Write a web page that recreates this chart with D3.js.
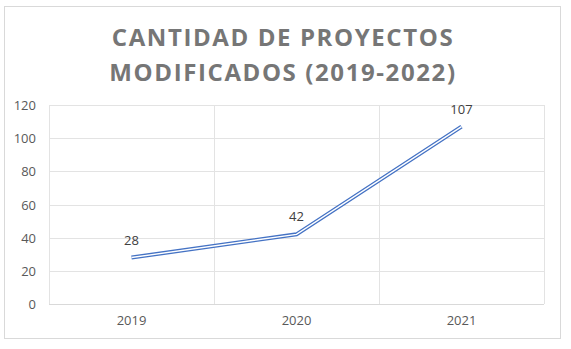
<!DOCTYPE html>
<html>
<head>
<meta charset="utf-8">
<script src="https://cdn.jsdelivr.net/npm/d3@7"></script>
<style>
  html, body { margin: 0; padding: 0; background: #fff; }
  svg { display: block; }
</style>
</head>
<body>
<svg id="chart" width="571" height="349"></svg>
<script>
// Projects modified per year
const years = ["2019", "2020", "2021"];
const proyectos = [28, 42, 107];
const yTicks = [0, 20, 40, 60, 80, 100, 120];
const titleLines = ["CANTIDAD DE PROYECTOS", "MODIFICADOS (2019-2022)"];

const svg = d3.select("#chart");
const W = 571, H = 349;
const plot = { left: 49, right: 544, top: 105, bottom: 304 };
const textColor = "#595959";
const gridColor = "#e3e3e3";
const font = "'Open Sans', 'Noto Sans', sans-serif";

// Chart frame
svg.append("rect")
  .attr("x", 4.5).attr("y", 6.5)
  .attr("width", 556).attr("height", 332)
  .attr("fill", "#fff")
  .attr("stroke", "#d9d9d9").attr("stroke-width", 1);

// Title
svg.append("g").selectAll("text")
  .data(titleLines)
  .join("text")
  .attr("x", 283)
  .attr("y", (d, i) => 46 + i * 35)
  .attr("text-anchor", "middle")
  .attr("font-family", font)
  .attr("font-weight", "bold")
  .attr("font-size", 24)
  .attr("letter-spacing", 1.6)
  .attr("fill", "#767676")
  .text(d => d);

// Scales
const x = d3.scaleBand().domain(years).range([plot.left, plot.right]);
const y = d3.scaleLinear().domain([0, 120]).range([plot.bottom, plot.top]);

// Horizontal gridlines
svg.append("g").selectAll("line")
  .data(yTicks)
  .join("line")
  .attr("x1", plot.left).attr("x2", plot.right)
  .attr("y1", d => Math.round(y(d)) + 0.5)
  .attr("y2", d => Math.round(y(d)) + 0.5)
  .attr("stroke", d => d === 0 ? "#d9d9d9" : gridColor)
  .attr("stroke-width", 1);

// Vertical gridlines at category boundaries
const bounds = years.map(d => x(d)).concat([plot.right]);
svg.append("g").selectAll("line")
  .data(bounds)
  .join("line")
  .attr("x1", d => Math.round(d) + 0.5)
  .attr("x2", d => Math.round(d) + 0.5)
  .attr("y1", plot.top).attr("y2", plot.bottom)
  .attr("stroke", gridColor)
  .attr("stroke-width", 1);

// Y axis labels
const yAxis = d3.axisLeft(y).tickValues(yTicks).tickSize(0).tickPadding(0);
const gy = svg.append("g")
  .attr("transform", `translate(${36},0)`)
  .call(yAxis);
gy.select(".domain").remove();
gy.selectAll("text")
  .attr("font-family", font)
  .attr("font-size", 13)
  .attr("fill", textColor)
  .attr("dy", "0.35em");

// X axis labels
const xAxis = d3.axisBottom(x).tickSize(0).tickPadding(0);
const gx = svg.append("g")
  .attr("transform", `translate(0,${plot.bottom + 12})`)
  .call(xAxis);
gx.select(".domain").remove();
gx.selectAll("text")
  .attr("font-family", font)
  .attr("font-size", 13)
  .attr("fill", textColor)
  .attr("dy", "0.71em");

// Double-stroke line
const line = d3.line()
  .x((d, i) => x(years[i]) + x.bandwidth() / 2)
  .y(d => y(d));

svg.append("path")
  .datum(proyectos)
  .attr("d", line)
  .attr("fill", "none")
  .attr("stroke", "#4472c4")
  .attr("stroke-width", 4)
  .attr("stroke-linejoin", "miter");

svg.append("path")
  .datum(proyectos)
  .attr("d", line)
  .attr("fill", "none")
  .attr("stroke", "#ffffff")
  .attr("stroke-width", 1.4)
  .attr("stroke-linejoin", "miter");

// Data labels
svg.append("g").selectAll("text")
  .data(proyectos)
  .join("text")
  .attr("x", (d, i) => x(years[i]) + x.bandwidth() / 2)
  .attr("y", d => y(d) - 13)
  .attr("text-anchor", "middle")
  .attr("font-family", font)
  .attr("font-size", 13)
  .attr("fill", "#404040")
  .text(d => d);
</script>
</body>
</html>
